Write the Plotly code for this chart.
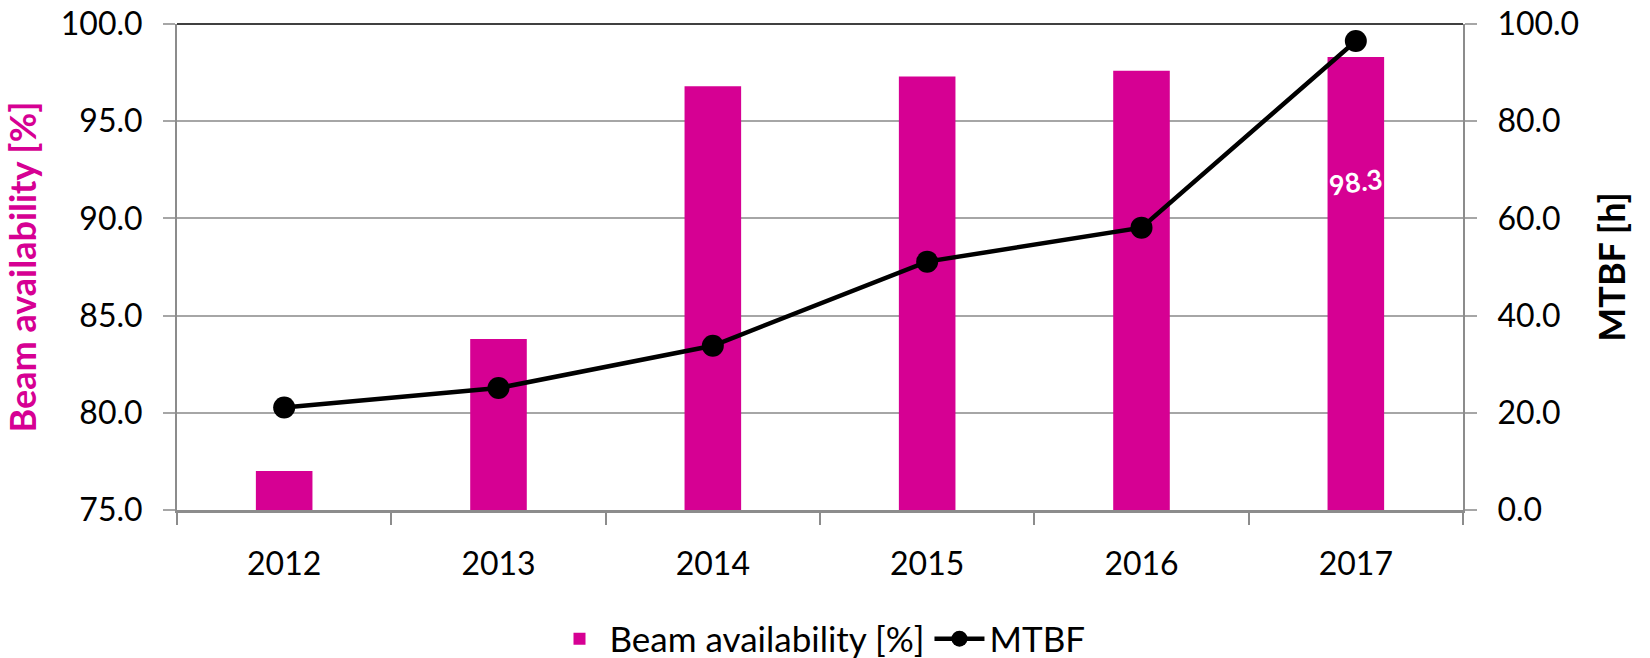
import plotly.graph_objects as go

# data
years = ["2012", "2013", "2014", "2015", "2016", "2017"]
beam_availability = [77.0, 83.8, 96.8, 97.3, 97.6, 98.3]
mtbf = [21.1, 25.1, 33.8, 51.1, 58.1, 96.5]
label_year = "2017"
label_value = 98.3

MAGENTA = "#D60093"
GRID = "#A6A6A6"
FONT = "Lato"

fig = go.Figure()

fig.add_trace(go.Bar(
    x=years,
    y=beam_availability,
    name="Beam availability [%]",
    marker=dict(color=MAGENTA, line=dict(width=0)),
    yaxis="y",
))

fig.add_trace(go.Scatter(
    x=years,
    y=mtbf,
    name="MTBF",
    mode="lines+markers",
    line=dict(color="black", width=4.5),
    marker=dict(color="black", size=22),
    yaxis="y2",
))

# single data label on the last bar, placed like the original
# (category axis: annotation x is given as the category index)
fig.add_annotation(
    x=years.index(label_year), y=91.9, xref="x", yref="y",
    text=f"{label_value:.1f}",
    showarrow=False, textangle=-8,
    font=dict(family=FONT, size=27, color="white", weight="bold"),
)

# darker frame line along the top of the plot
fig.add_shape(type="line", xref="paper", yref="paper", x0=0, x1=1, y0=1, y1=1,
              line=dict(color="#404040", width=2))

fig.update_layout(
    width=1650,
    height=658,
    margin=dict(l=177, r=187, t=24, b=148, autoexpand=False),
    paper_bgcolor="white",
    plot_bgcolor="white",
    font=dict(family=FONT, size=32, color="black"),
    bargap=0.736,
    showlegend=True,
    legend=dict(
        orientation="h",
        x=0.5, xanchor="center",
        yref="container", y=0.029, yanchor="middle",
        font=dict(family=FONT, size=35),
        itemwidth=50,
        traceorder="normal",
    ),
    xaxis=dict(
        type="category",
        range=[-0.5, len(years) - 0.5],
        automargin=False,
        showgrid=False,
        showline=True, linecolor="#8C8C8C", linewidth=3,
        ticks="outside", tickson="boundaries", ticklen=12, tickwidth=2, tickcolor="#8C8C8C",
        ticklabelstandoff=24,
        tickfont=dict(family=FONT, size=32),
        tickangle=0,
        mirror=False,
    ),
    yaxis=dict(
        range=[75, 100], dtick=5, tickformat=".1f",
        automargin=False,
        ticklabeloverflow="allow",
        showgrid=True, gridcolor=GRID, gridwidth=2,
        showline=True, linecolor="#8C8C8C", linewidth=2,
        ticks="outside", ticklen=12, tickwidth=2, tickcolor=GRID,
        ticklabelstandoff=14,
        zeroline=False,
        title=dict(text="<b>Beam availability [%]</b>", font=dict(family=FONT, size=36, color=MAGENTA), standoff=16),
    ),
    yaxis2=dict(
        range=[0, 100], dtick=20, tickformat=".1f",
        automargin=False,
        ticklabeloverflow="allow",
        overlaying="y", side="right",
        showgrid=False,
        showline=True, linecolor="#8C8C8C", linewidth=2,
        ticks="outside", ticklen=12, tickwidth=2, tickcolor=GRID,
        ticklabelstandoff=14,
        zeroline=False,
        title=dict(text="<b>MTBF [h]</b>", font=dict(family=FONT, size=36, color="black"), standoff=22),
    ),
)

# drop the default page margin so the figure fills the window exactly
fig.write_html(
    "out.html",
    config={"displayModeBar": False},
    post_script="document.body.style.margin = '0';",
)
